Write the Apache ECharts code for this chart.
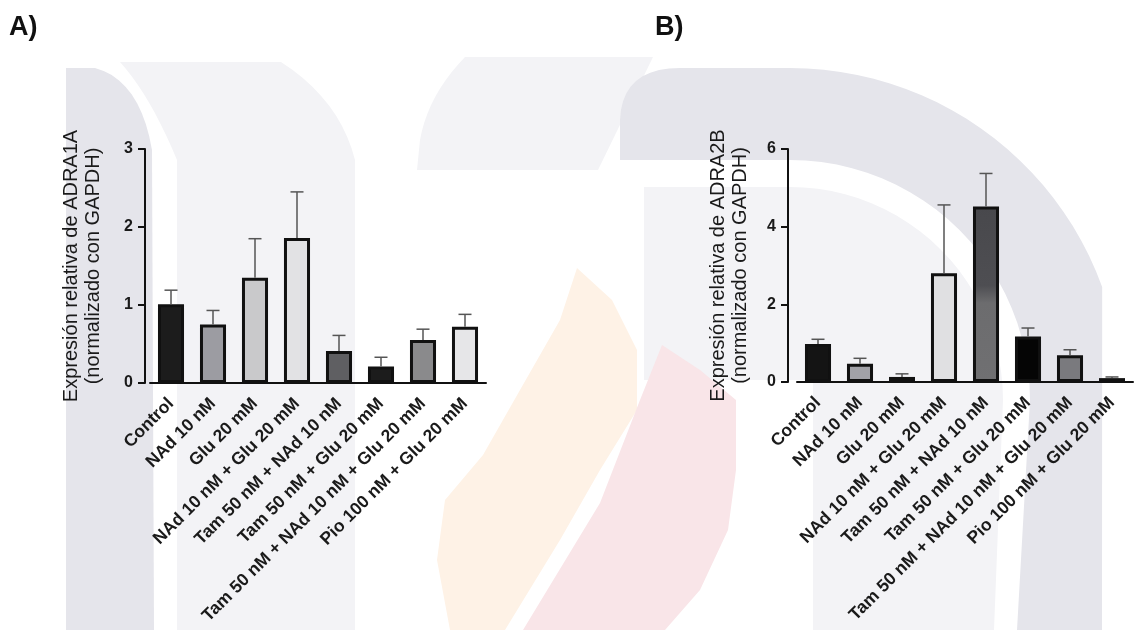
<!DOCTYPE html>
<html><head><meta charset="utf-8">
<script src="https://cdn.jsdelivr.net/npm/echarts@6/dist/echarts.min.js"></script>
<style>html,body{margin:0;padding:0;background:#fff}#c{width:1135px;height:630px}</style>
</head><body><div id="c"></div>
<script>
const categories = ['Control','NAd 10 nM','Glu 20 mM','NAd 10 nM + Glu 20 mM','Tam 50 nM + NAd 10 nM','Tam 50 nM + Glu 20 mM','Tam 50 nM + NAd 10 nM + Glu 20 mM','Pio 100 nM + Glu 20 mM'];
const meanA  = [1.01, 0.75, 1.35, 1.86, 0.41, 0.21, 0.55, 0.72];
const upperA = [1.19, 0.93, 1.85, 2.45, 0.61, 0.33, 0.69, 0.88];
const meanB  = [0.98, 0.47, 0.13, 2.80, 4.52, 1.17, 0.69, 0.10];
const upperB = [1.10, 0.61, 0.21, 4.56, 5.37, 1.39, 0.83, 0.13];
const colorsA = ['#1c1c1c','#9c9ca2','#c9c9cb','#e2e2e4','#5f5f62','#1c1c1c','#8a8a8c','#e6e6e8'];
const colorsB = ['#141414','#a2a2a8','#8c8c8e','#e0e0e2',
  {type:'linear',x:0,y:0,x2:0,y2:1,colorStops:[{offset:0,color:'#48484c'},{offset:0.45,color:'#4e4e52'},{offset:0.55,color:'#6c6c6e'},{offset:1,color:'#707072'}]},
  '#050505','#7a7a7e','#505050'];

const font = '"Liberation Sans", Arial, sans-serif';
const chart = echarts.init(document.getElementById('c'));

function errSeries(idx, means, uppers){
  return {
    type:'custom', xAxisIndex:idx, yAxisIndex:idx, z:5, silent:true,
    data: means.map((m,i)=>[i, m, uppers[i]]),
    renderItem(params, api){
      const lo = api.coord([api.value(0), api.value(1)]);
      const hi = api.coord([api.value(0), api.value(2)]);
      const w = 6.5;
      return {type:'group', children:[
        {type:'line', shape:{x1:lo[0],y1:lo[1],x2:hi[0],y2:hi[1]}, style:{stroke:'#555',lineWidth:1.5}},
        {type:'line', shape:{x1:hi[0]-w,y1:hi[1],x2:hi[0]+w,y2:hi[1]}, style:{stroke:'#555',lineWidth:1.5}}
      ]};
    }
  };
}
function barSeries(idx, means, colors){
  return {
    type:'bar', xAxisIndex:idx, yAxisIndex:idx, barWidth:'62%', z:3,
    data: means.map((v,i)=>({value:v, itemStyle:{color:colors[i]}})),
    itemStyle:{borderColor:'#111', borderWidth:3}
  };
}
function xAx(idx){
  return {
    type:'category', gridIndex:idx, data:categories,
    axisLine:{lineStyle:{color:'#111', width:2}},
    axisTick:{alignWithLabel:true, length:7, lineStyle:{color:'#111', width:2}},
    axisLabel:{rotate:45, interval:0, margin:18, color:'#1a1a1a', fontFamily:font, fontWeight:'bold', fontSize:17.5}
  };
}
function yAx(idx, max, name, offset, nameGap){
  return {
    type:'value', gridIndex:idx, min:0, max:max, interval:max/3, offset:offset,
    name:name, nameLocation:'middle', nameRotate:90, nameGap:nameGap,
    nameTextStyle:{fontFamily:font, fontSize:20, color:'#1a1a1a', lineHeight:22},
    axisLine:{show:true, lineStyle:{color:'#111', width:2}},
    axisTick:{show:true, length:7, lineStyle:{color:'#111', width:2}},
    axisLabel:{margin:12, color:'#1a1a1a', fontFamily:font, fontWeight:'bold', fontSize:16},
    splitLine:{show:false}
  };
}
// ---- faint background watermark (decoration only) ----
function shape(segs){
  const pts = []; let cur = null;
  segs.forEach(s=>{
    if (s.arc) { const [cx,cy,r,a0,a1] = s.arc; const n = 24;
      for (let k=0;k<=n;k++){ const a=(a0+(a1-a0)*k/n)*Math.PI/180; pts.push([cx+r*Math.cos(a), cy+r*Math.sin(a)]); }
      cur = pts[pts.length-1]; }
    else if (typeof s[0] === 'number') { pts.push(s); cur = s; }
    else { const c = s[0], e = s[1];
      for (let t=0.1; t<=1.0001; t+=0.1){
        pts.push([(1-t)*(1-t)*cur[0]+2*(1-t)*t*c[0]+t*t*e[0], (1-t)*(1-t)*cur[1]+2*(1-t)*t*c[1]+t*t*e[1]]);
      }
      cur = e; }
  });
  return pts;
}
const grey = '#e5e5eb', light = '#f3f3f6';
function poly(segs, fill, z){ return {type:'polygon', z:z||-10, silent:true, shape:{points:shape(segs)}, style:{fill:fill}}; }
const capAng = Math.asin(113/332)*180/Math.PI; // angle where outer arc meets x=1102
chart.setOption({
  animation:false,
  graphic:[
    poly([[66,630],[66,68],[95,68],[[140,80],[152,150]],[154,630]], grey),
    poly([[120,62],[281,62],[[340,100],[355,160]],[355,630],[177,630],[177,160],[[150,95],[120,62]]], light),
    poly([[465,57],[653,57],[598,170],[417,170],[420,140],[[428,95],[465,57]]], light),
    poly([[620,158],[620,120],[[622,68],[680,68]],[790,68],{arc:[790,400,332,-90,-capAng]},[1102,630],[1017,630],[1030,400],{arc:[790,400,240,0,-90]},[620,160]], grey),
    poly([[644,187],[790,187],{arc:[790,400,213,-90,0]},[1003,400],[994,630],[813,630],[813,380],[644,380]], light),
    poly([[577,268],[612,300],[637,350],[637,410],[600,470],[560,540],[505,630],[450,630],[437,560],[445,500],[483,455],[520,390],[560,320]], '#fef2e6', -9),
    poly([[662,345],[700,370],[736,400],[736,470],[728,530],[700,590],[665,630],[523,630],[600,503],[640,400]], '#f9e5e8', -9),
    {type:'text', silent:true, style:{text:'A)', x:9, y:14, font:'bold 27px '+font, fill:'#111', shadowColor:'rgba(0,0,0,0.35)', shadowBlur:2, shadowOffsetX:2, shadowOffsetY:2}},
    {type:'text', silent:true, style:{text:'B)', x:655, y:14, font:'bold 27px '+font, fill:'#111', shadowColor:'rgba(0,0,0,0.35)', shadowBlur:2, shadowOffsetX:2, shadowOffsetY:2}}
  ],
  grid:[
    {left:150, top:149, width:336, height:234},
    {left:797, top:149, width:336, height:233}
  ],
  xAxis:[xAx(0), xAx(1)],
  yAxis:[
    yAx(0, 3, 'Expresión relativa de ADRA1A\n(normalizado con GAPDH)', 5, 41),
    yAx(1, 6, 'Expresión relativa de ADRA2B\n(normalizado con GAPDH)', 9, 37)
  ],
  series:[
    barSeries(0, meanA, colorsA), errSeries(0, meanA, upperA),
    barSeries(1, meanB, colorsB), errSeries(1, meanB, upperB)
  ]
});
</script></body></html>
